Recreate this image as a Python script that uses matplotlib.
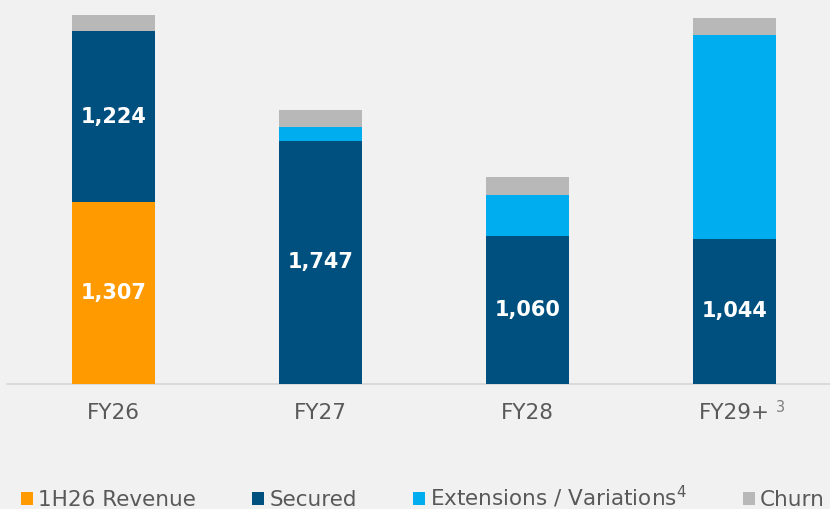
import matplotlib
matplotlib.use("Agg")
import matplotlib.pyplot as plt
import numpy as np

categories = ["FY26", "FY27", "FY28", "FY29+"]
tick_footnotes = [None, None, None, "3"]
revenue_1h26 = [1307, 0, 0, 0]
secured = [1224, 1747, 1060, 1044]
extensions = [0, 100, 294, 1465]
churn = [122, 122, 129, 122]

label_revenue = [1307, None, None, None]
label_secured = [1224, 1747, 1060, 1044]

C_ORANGE = "#FF9B00"
C_DARK = "#00507F"
C_LIGHT = "#00AEEF"
C_GRAY = "#B8B8B8"
BG = "#F1F1F1"
TXT = "#595959"

W, H = 830, 509
fig = plt.figure(figsize=(W / 100, H / 100), dpi=100, facecolor=BG)
ax = fig.add_axes([7 / W, (H - 384) / H, 823 / W, 384 / H], facecolor=BG)

x = np.arange(len(categories))
width = 0.40
rev = np.array(revenue_1h26, dtype=float)
sec = np.array(secured, dtype=float)
ext = np.array(extensions, dtype=float)
chn = np.array(churn, dtype=float)

b1 = ax.bar(x, rev, width, color=C_ORANGE, label="1H26 Revenue", zorder=3)
b2 = ax.bar(x, sec, width, bottom=rev, color=C_DARK, label="Secured", zorder=3)
b3 = ax.bar(x, ext, width, bottom=rev + sec, color=C_LIGHT,
            label="Extensions / Variations$^{4}$", zorder=3)
b4 = ax.bar(x, chn, width, bottom=rev + sec + ext, color=C_GRAY, label="Churn", zorder=3)

for i in range(len(categories)):
    if label_revenue[i]:
        ax.text(x[i], rev[i] / 2, f"{label_revenue[i]:,}", ha="center", va="center",
                color="white", fontsize=15, fontweight="bold", zorder=4)
    ax.text(x[i], rev[i] + sec[i] / 2, f"{label_secured[i]:,}", ha="center", va="center",
            color="white", fontsize=15, fontweight="bold", zorder=4)

ax.set_xlim(-106.5 / 207, -106.5 / 207 + 823 / 207)
ax.set_ylim(0, 384 * 7.18)
ax.set_xticks(x)
ax.set_xticklabels(categories, fontsize=15.5, color=TXT)
ax.tick_params(axis="x", length=0, pad=14)
ax.set_yticks([])
for s in ["top", "right", "left"]:
    ax.spines[s].set_visible(False)
ax.spines["bottom"].set_color("#D6D6D6")
ax.spines["bottom"].set_linewidth(1.2)

for i, fn in enumerate(tick_footnotes):
    if fn:
        ax.annotate(fn, xy=(x[i], 0), xycoords=("data", "axes fraction"),
                    xytext=(46, -23), textcoords="offset pixels",
                    ha="center", va="center", fontsize=10.5, color="#7F7F7F")

leg = fig.legend(handles=[b1, b2, b3, b4], loc="center",
                 bbox_to_anchor=(423 / W, 12 / H), ncol=4, frameon=False,
                 fontsize=15.5, handlelength=0.55, handleheight=0.55,
                 handletextpad=0.25, columnspacing=2.6, labelcolor=TXT)

fig.savefig("out.png", dpi=100, facecolor=BG)
